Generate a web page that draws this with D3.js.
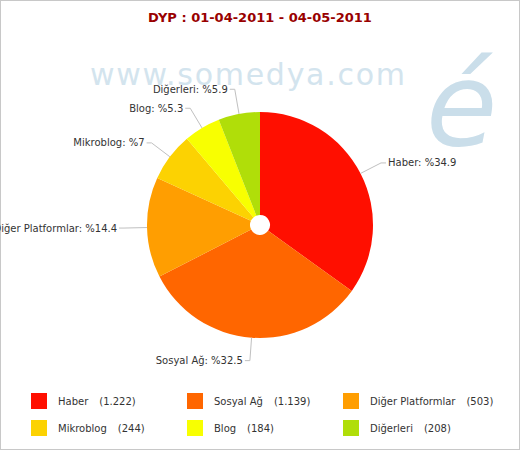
<!DOCTYPE html>
<html><head><meta charset="utf-8">
<script src="https://cdn.jsdelivr.net/npm/d3@7"></script>
<style>body{margin:0;background:#fff}svg{display:block}</style></head>
<body><svg id="c" width="520" height="450"></svg>
<script>
const categories = ["Haber","Sosyal Ağ","Diğer Platformlar","Mikroblog","Blog","Diğerleri"];
const values = [1222,1139,503,244,184,208];
const colors = ["#FF0F00","#FF6600","#FF9E01","#FCD202","#F8FF01","#B0DE09"];
const title = "DYP : 01-04-2011 - 04-05-2011";
const watermark = "www.somedya.com";

const svg = d3.select("#c");
const W = 520, H = 450;
const cx = 260, cy = 225, R = 113, R0 = 10, LR = 136;
const font = "'DejaVu Sans', Verdana, sans-serif";

svg.append("rect").attr("x",0.5).attr("y",0.5).attr("width",W-1).attr("height",H-1)
  .attr("fill","#fff").attr("stroke","#c8c8c8");

// watermark
svg.append("text").attr("x",90).attr("y",85).attr("textLength",315).attr("lengthAdjust","spacing")
  .attr("font-family",font).attr("font-size",30).attr("fill","#d3e4ee").text(watermark);
svg.append("text").attr("x",426).attr("y",145).attr("font-family",font).attr("font-size",116)
  .attr("font-style","italic").attr("fill","#cadeea").text("é");

// title
svg.append("text").attr("x",260).attr("y",22).attr("text-anchor","middle")
  .attr("font-family",font).attr("font-weight","bold").attr("font-size",13)
  .attr("fill","#990000").text(title);

const total = d3.sum(values);
const pie = d3.pie().sort(null).value(d=>d);
const arcs = pie(values);
const arc = d3.arc().innerRadius(R0).outerRadius(R);

const g = svg.append("g").attr("transform",`translate(${cx},${cy})`);
g.selectAll("path").data(arcs).join("path").attr("d",arc).attr("fill",(d,i)=>colors[i]);

// labels
const labels = arcs.map((a,i)=>{
  const m = (a.startAngle+a.endAngle)/2;
  const p = +(values[i]/total*100).toFixed(1);
  return {i, m, ex: Math.sin(m)*R, ey: -Math.cos(m)*R, lx: Math.sin(m)*LR, ly: -Math.cos(m)*LR,
    left: Math.sin(m) < 0, text: categories[i] + ": %" + p};
});
// simple overlap resolution per side
[true,false].forEach(side=>{
  const L = labels.filter(l=>l.left===side).sort((a,b)=>a.ly-b.ly);
  for(let k=L.length-2;k>=0;k--){ if(L[k].ly > L[k+1].ly-19) L[k].ly = L[k+1].ly-19; }
});
const lg = g.append("g");
labels.forEach(l=>{
  const dir = l.left ? -1 : 1;
  lg.append("polyline").attr("points",`${l.ex},${l.ey} ${l.lx},${l.ly} ${l.lx+dir*5},${l.ly}`)
    .attr("fill","none").attr("stroke","#c0c0c0").attr("stroke-width",1);
  lg.append("text").attr("x",l.lx+dir*7).attr("y",l.ly).attr("dy","0.35em")
    .attr("text-anchor", l.left ? "end" : "start")
    .attr("font-family",font).attr("font-size",10).attr("fill","#333").text(l.text);
});

// legend
const loc = d3.formatLocale({decimal:",",thousands:".",grouping:[3],currency:["",""]});
const fmt = loc.format(",");
const colX = d3.scalePoint().domain([0,1,2]).range([31,343]);
const rowY = d3.scalePoint().domain([0,1]).range([393,420]);
categories.forEach((c,i)=>{
  const x = colX(i%3), y = rowY(Math.floor(i/3));
  svg.append("rect").attr("x",x).attr("y",y).attr("width",16).attr("height",16).attr("fill",colors[i]);
  const t = svg.append("text").attr("x",x+27).attr("y",y+8).attr("dy","0.35em")
    .attr("font-family",font).attr("font-size",10).attr("fill","#333");
  t.append("tspan").text(c);
  t.append("tspan").attr("dx",11).text("(" + fmt(values[i]) + ")");
});
</script></body></html>
